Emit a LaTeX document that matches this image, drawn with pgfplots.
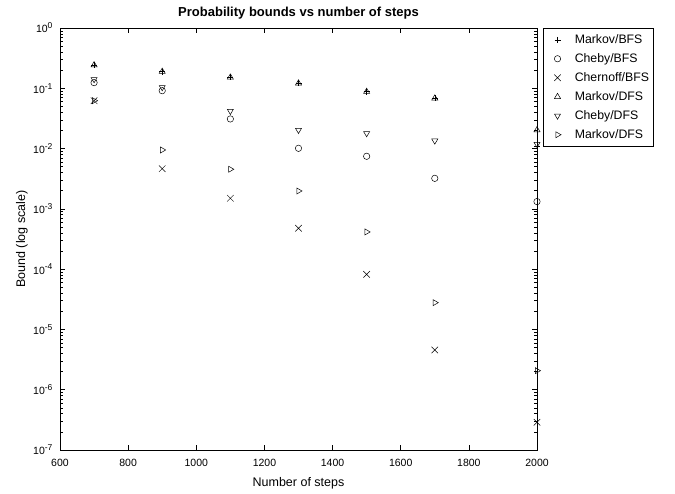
\documentclass[border=0pt]{standalone}
\usepackage{pgfplots}
\pgfplotsset{compat=1.18}
\usepackage{fontspec}
\setmainfont{Liberation Sans}
\newcommand{\tl}[1]{10\raisebox{0.75ex}{\fontsize{8.5}{9}\selectfont #1}}
\begin{document}
\begin{tikzpicture}[x=1pt,y=1pt]
\useasboundingbox (0,0) rectangle (675,493);
\begin{axis}[
  at={(60pt,43pt)}, anchor=south west,
  scale only axis, width=477pt, height=422pt,
  xmin=600, xmax=2000,
  ymode=log, ymin=1e-7, ymax=1,
  xtick={600,800,...,2000},
  ytick={1e-7,1e-6,1e-5,1e-4,1e-3,1e-2,1e-1,1},
  yticklabels={\tl{-7},\tl{-6},\tl{-5},\tl{-4},\tl{-3},\tl{-2},\tl{-1},\tl{0}},
  tick align=inside, tick pos=both,
  major tick length=5pt, minor tick length=3pt,
  axis line style={line width=0.6pt},
  every tick/.style={line width=0.5pt, black},
  /pgf/number format/assume math mode=true,
  /pgf/number format/1000 sep={},
  ticklabel style={font=\fontsize{10.5}{13}\selectfont},
  xticklabel style={yshift=-6pt},
  yticklabel style={xshift=-4pt},
  title={Probability bounds vs number of steps},
  title style={font=\fontsize{13}{15}\selectfont\bfseries, at={(axis description cs:0.5,1.022)}, anchor=center},
  xlabel={Number of steps},
  xlabel style={font=\fontsize{12.5}{15}\selectfont, at={(axis description cs:0.5,-0.0782)}, anchor=center},
  ylabel={Bound (log scale)},
  ylabel style={font=\fontsize{12.5}{15}\selectfont, at={(axis description cs:-0.0797,0.5)}, anchor=center},
  legend style={at={(axis description cs:1.0126,1)}, anchor=north west, draw=black, line width=0.5pt,
    font=\fontsize{12.3}{14}\selectfont, row sep=0pt, inner xsep=2pt,
    nodes={text height=9pt, text depth=2pt, inner ysep=4pt, inner xsep=2pt}},
  legend image code/.code={\path (0pt,0pt) (27pt,0pt); \draw[#1] plot coordinates {(12pt,0pt)};},
  legend cell align=left,
  every axis plot/.append style={only marks, black, line width=0.5pt, mark size=3.5pt},
]
\addplot[mark=+, mark size=3pt] coordinates {(700,0.243) (900,0.189) (1100,0.152) (1300,0.121) (1500,0.0879) (1700,0.0683) (2000,0.011)};
\addlegendentry{Markov/BFS}
\addplot[mark=o, mark size=3.2pt] coordinates {(700,0.124) (900,0.0912) (1100,0.031) (1300,0.0101) (1500,0.00745) (1700,0.00321) (2000,0.00132)};
\addlegendentry{Cheby/BFS}
\addplot[mark=x, mark size=4.6pt] coordinates {(700,0.0623) (900,0.00464) (1100,0.0015) (1300,4.77e-4) (1500,8.2e-5) (1700,4.57e-6) (2000,2.88e-7)};
\addlegendentry{Chernoff/BFS}
\addplot[mark=triangle] coordinates {(700,0.243) (900,0.189) (1100,0.152) (1300,0.121) (1500,0.0879) (1700,0.0683) (2000,0.0203)};
\addlegendentry{Markov/DFS}
\addplot[mark=triangle, mark options={rotate=180}] coordinates {(700,0.141) (900,0.104) (1100,0.042) (1300,0.0203) (1500,0.0179) (1700,0.0135) (2000,0.0119)};
\addlegendentry{Cheby/DFS}
\addplot[mark=triangle, mark options={rotate=-90}] coordinates {(700,0.0623) (900,0.00948) (1100,0.00454) (1300,0.00198) (1500,4.14e-4) (1700,2.78e-5) (2000,2.07e-6)};
\addlegendentry{Markov/DFS}
\end{axis}
\end{tikzpicture}
\end{document}
